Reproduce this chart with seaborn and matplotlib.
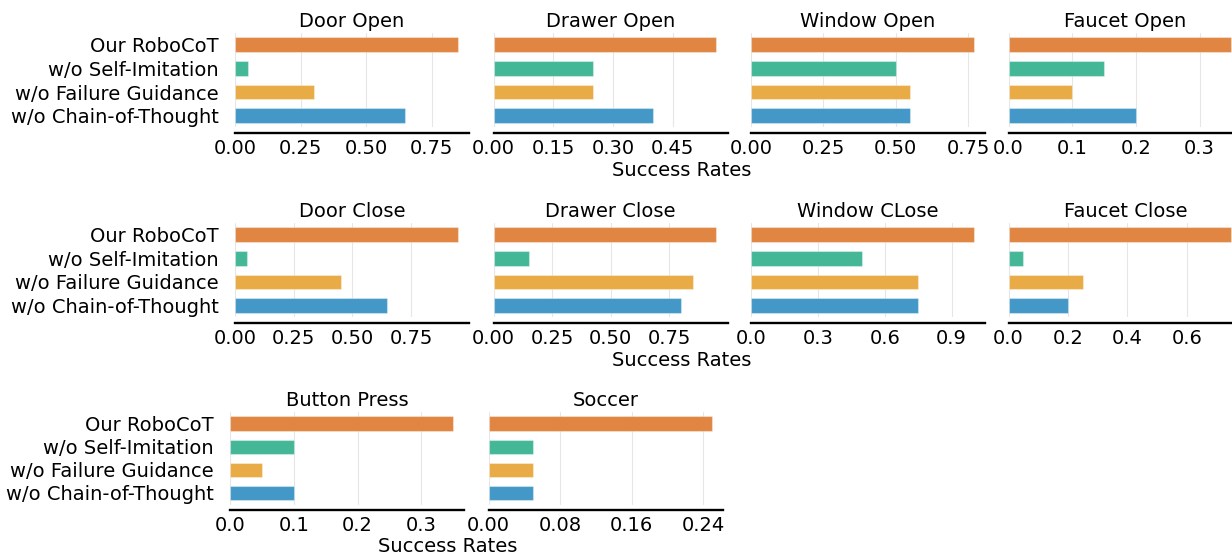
import pandas as pd
import seaborn as sns
import matplotlib.pyplot as plt

sns.set_style("white")
plt.rcParams['font.family'] = ['DejaVu Sans']
plt.rcParams['text.color'] = 'black'
plt.rcParams['xtick.color'] = 'black'
plt.rcParams['ytick.color'] = 'black'

tasks = ["Door Open", "Drawer Open", "Window Open", "Faucet Open",
         "Door Close", "Drawer Close", "Window CLose", "Faucet Close",
         "Button Press", "Soccer"]
methods = ["Our RoboCoT", "w/o Self-Imitation", "w/o Failure Guidance", "w/o Chain-of-Thought"]

our_robocot = [0.85, 0.56, 0.77, 0.35, 0.95, 0.95, 1.00, 0.75, 0.35, 0.25]
wo_self_imitation = [0.05, 0.25, 0.50, 0.15, 0.05, 0.15, 0.50, 0.05, 0.10, 0.05]
wo_failure_guidance = [0.30, 0.25, 0.55, 0.10, 0.45, 0.85, 0.75, 0.25, 0.05, 0.05]
wo_chain_of_thought = [0.65, 0.40, 0.55, 0.20, 0.65, 0.80, 0.75, 0.20, 0.10, 0.05]

tick_labels = [
    ["0.00", "0.25", "0.50", "0.75"],
    ["0.00", "0.15", "0.30", "0.45"],
    ["0.00", "0.25", "0.50", "0.75"],
    ["0.0", "0.1", "0.2", "0.3"],
    ["0.00", "0.25", "0.50", "0.75"],
    ["0.00", "0.25", "0.50", "0.75"],
    ["0.0", "0.3", "0.6", "0.9"],
    ["0.0", "0.2", "0.4", "0.6"],
    ["0.0", "0.1", "0.2", "0.3"],
    ["0.00", "0.08", "0.16", "0.24"],
]

colors = ["#E08642", "#44B797", "#E8AB45", "#4398C7"]

W, H = 1232, 555
fig = plt.figure(figsize=(W / 100, H / 100), dpi=100)

# axes boxes in pixels: left, top, width, height
boxes = []
for r, top in enumerate([33, 223]):
    for c, left in enumerate([235, 493.5, 751, 1008.5]):
        boxes.append((left, top, 234, 94.4))
boxes.append((230, 412, 234.5, 92.5))
boxes.append((488.7, 412, 234.5, 92.5))

fs = 14

for i, task in enumerate(tasks):
    left, top, w, h = boxes[i]
    ax = fig.add_axes([left / W, 1 - (top + h) / H, w / W, h / H])
    df = pd.DataFrame({
        "method": methods,
        "rate": [our_robocot[i], wo_self_imitation[i], wo_failure_guidance[i], wo_chain_of_thought[i]],
    })
    sns.barplot(data=df, x="rate", y="method", hue="method", palette=colors,
                order=methods, hue_order=methods, legend=False, width=0.62,
                saturation=1, edgecolor=(1, 1, 1, 0.35), linewidth=0.8, ax=ax)
    ax.set_xlim(0, max(df["rate"]) * 1.05)
    ax.set_ylim(3.5, -0.5)
    ticks = [float(t) for t in tick_labels[i]]
    ax.set_xticks(ticks)
    ax.set_xticklabels(tick_labels[i])
    ax.grid(axis="x", color="#E6E6E6", linewidth=0.8)
    ax.set_axisbelow(True)
    ax.set_title(task, fontsize=fs, pad=4)
    ax.set_xlabel("")
    ax.set_ylabel("")
    ax.tick_params(axis="x", length=0, pad=4, labelsize=fs)
    ax.tick_params(axis="y", length=0, pad=11.5, labelsize=fs)
    if i not in (0, 4, 8):
        ax.set_yticklabels([])
    sns.despine(ax=ax, left=True, offset={"bottom": 4})
    ax.spines["bottom"].set_color("black")
    ax.spines["bottom"].set_linewidth(1.7)

for x, y in [(682, 171), (682, 361), (448, 546)]:
    fig.text(x / W, 1 - y / H, "Success Rates", ha="center", va="center", fontsize=fs)

fig.savefig("out.png", dpi=100)
